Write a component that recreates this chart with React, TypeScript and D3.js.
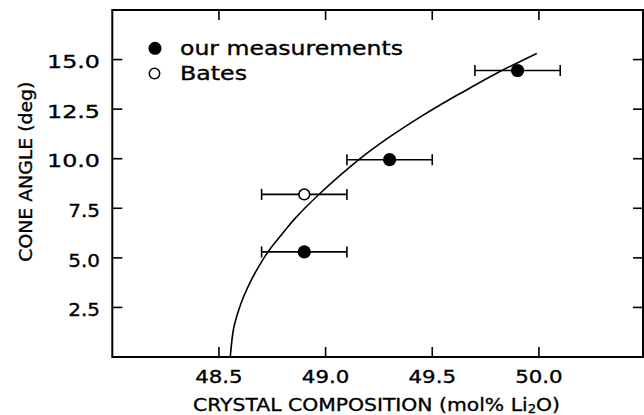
import React from "react";
import * as d3 from "d3";

// Measured cone angles with composition uncertainty
const ourX = [48.9, 49.3, 49.9];
const ourY = [5.3, 9.95, 14.45];
const ourErr = [0.2, 0.2, 0.2];

const batesX = [48.9];
const batesY = [8.2];
const batesErr = [0.2];

// Fitted curve, sampled points
const curveX = [48.553, 48.569, 48.592, 48.616, 48.655, 48.694, 48.733, 48.811, 48.857, 48.966, 49.153, 49.302, 49.458, 49.583, 49.646, 49.802, 49.99];
const curveY = [0, 1.45, 2.35, 3.05, 3.95, 4.7, 5.35, 6.4, 6.99, 8.17, 9.93, 11.11, 12.2, 13.0, 13.38, 14.31, 15.31];

const xTicks = [48.5, 49.0, 49.5, 50.0];
const yTicks = [2.5, 5.0, 7.5, 10.0, 12.5, 15.0];

const W = 644;
const H = 415;
const left = 112.3;
const right = 643;
const top = 10;
const bottom = 357;

const FONT = "'DejaVu Sans', Verdana, sans-serif";

export default function App() {
  const x = d3.scaleLinear().domain([48, 50.5]).range([left, left + 2.5 * 213.3]);
  const y = d3.scaleLinear().domain([0, 17.5]).range([bottom, top]);

  const line = d3
    .line<number>()
    .x((_, i) => x(curveX[i]))
    .y((_, i) => y(curveY[i]))
    .curve(d3.curveCatmullRom.alpha(0.5));

  const capH = 5.5;
  const errBar = (cx: number, cy: number, e: number, key: string) => (
    <g key={key} stroke="#000" strokeWidth={1.6} fill="none">
      <line x1={x(cx - e)} x2={x(cx + e)} y1={y(cy)} y2={y(cy)} />
      <line x1={x(cx - e)} x2={x(cx - e)} y1={y(cy) - capH} y2={y(cy) + capH} />
      <line x1={x(cx + e)} x2={x(cx + e)} y1={y(cy) - capH} y2={y(cy) + capH} />
    </g>
  );

  const tickLen = 10;
  const textStroke = { stroke: "#000", strokeWidth: 0.35 };

  return (
    <svg
      width={W}
      height={H}
      style={{ position: "absolute", left: 0, top: 0, background: "#fff" }}
      fontFamily={FONT}
    >
      <rect x={0} y={0} width={W} height={H} fill="#fff" />

      {/* frame */}
      <rect
        x={left}
        y={top}
        width={right - left}
        height={bottom - top}
        fill="none"
        stroke="#000"
        strokeWidth={2}
      />

      {/* ticks on all four sides, pointing inward */}
      {xTicks.map((t) => (
        <g key={"xt" + t} stroke="#000" strokeWidth={1.6}>
          <line x1={x(t)} x2={x(t)} y1={bottom} y2={bottom - tickLen} />
          <line x1={x(t)} x2={x(t)} y1={top} y2={top + tickLen} />
        </g>
      ))}
      {yTicks.map((t) => (
        <g key={"yt" + t} stroke="#000" strokeWidth={1.6}>
          <line x1={left} x2={left + tickLen} y1={y(t)} y2={y(t)} />
          <line x1={right} x2={right - tickLen} y1={y(t)} y2={y(t)} />
        </g>
      ))}

      {/* tick labels */}
      {xTicks.map((t) => (
        <text
          key={"xl" + t}
          x={x(t)}
          y={383.3}
          textAnchor="middle"
          fontSize={18.5}
          textLength={47.5}
          lengthAdjust="spacingAndGlyphs"
          {...textStroke}
        >
          {t.toFixed(1)}
        </text>
      ))}
      {yTicks.map((t) => {
        const s = t.toFixed(1);
        return (
          <text
            key={"yl" + t}
            x={100}
            y={y(t) + 8.7}
            textAnchor="end"
            fontSize={18.5}
            textLength={s.length === 4 ? 53 : 31.7}
            lengthAdjust="spacingAndGlyphs"
            {...textStroke}
          >
            {s}
          </text>
        );
      })}

      {/* axis titles */}
      <text
        x={376.5}
        y={410.5}
        textAnchor="middle"
        fontSize={18.5}
        textLength={367}
        lengthAdjust="spacingAndGlyphs"
        {...textStroke}
      >
        CRYSTAL COMPOSITION (mol% Li
        <tspan fontSize={12} dy={2}>2</tspan>
        <tspan dy={-2}>O)</tspan>
      </text>
      <text
        transform={`translate(31.5,171.7) rotate(-90)`}
        textAnchor="middle"
        fontSize={18.5}
        textLength={180}
        lengthAdjust="spacingAndGlyphs"
        {...textStroke}
      >
        CONE ANGLE (deg)
      </text>

      {/* fitted curve */}
      <path d={line(curveX) || ""} fill="none" stroke="#000" strokeWidth={1.6} />

      {/* error bars */}
      {ourX.map((v, i) => errBar(v, ourY[i], ourErr[i], "oe" + i))}
      {batesX.map((v, i) => errBar(v, batesY[i], batesErr[i], "be" + i))}

      {/* markers */}
      {ourX.map((v, i) => (
        <circle key={"o" + i} cx={x(v)} cy={y(ourY[i])} r={6.6} fill="#000" />
      ))}
      {batesX.map((v, i) => (
        <circle
          key={"b" + i}
          cx={x(v)}
          cy={y(batesY[i])}
          r={5.4}
          fill="#fff"
          stroke="#000"
          strokeWidth={1.6}
        />
      ))}

      {/* legend */}
      <circle cx={155} cy={48.3} r={6.5} fill="#000" />
      <text x={180} y={55} fontSize={19.5} textLength={223} lengthAdjust="spacingAndGlyphs" {...textStroke}>
        our measurements
      </text>
      <circle cx={154.5} cy={73.5} r={5.2} fill="#fff" stroke="#000" strokeWidth={1.5} />
      <text x={180} y={80} fontSize={19.5} textLength={67} lengthAdjust="spacingAndGlyphs" {...textStroke}>
        Bates
      </text>
    </svg>
  );
}
